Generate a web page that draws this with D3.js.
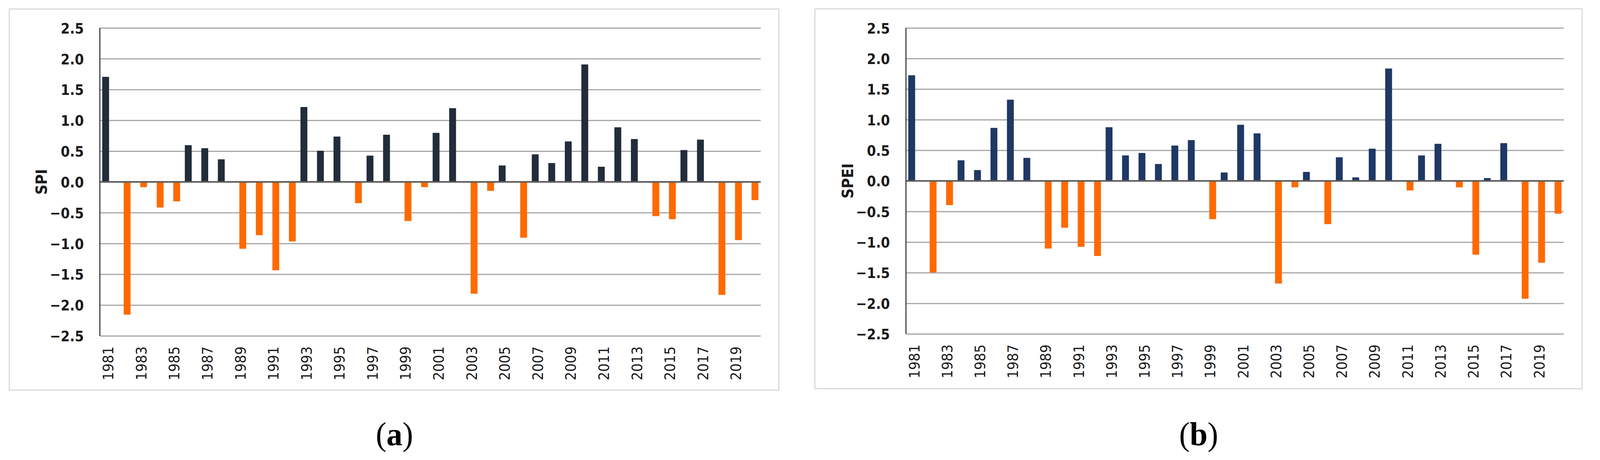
<!DOCTYPE html>
<html>
<head>
<meta charset="utf-8">
<script src="https://cdn.jsdelivr.net/npm/d3@7"></script>
<style>
  html, body { margin: 0; padding: 0; background: #fff; width: 100%; height: 100%; overflow: hidden; }
  svg { display: block; width: 100vw; height: 100vh; }
</style>
</head>
<body>
<svg id="chart" viewBox="0 0 4198 1178" preserveAspectRatio="none"></svg>
<script>
// ---------------- data ----------------
const years = [1981,1982,1983,1984,1985,1986,1987,1988,1989,1990,
               1991,1992,1993,1994,1995,1996,1997,1998,1999,2000,
               2001,2002,2003,2004,2005,2006,2007,2008,2009,2010,
               2011,2012,2013,2014,2015,2016,2017,2018,2019,2020];
const yearTickLabels = [1981,1983,1985,1987,1989,1991,1993,1995,1997,1999,
                        2001,2003,2005,2007,2009,2011,2013,2015,2017,2019];
const yTickValues = [-2.5,-2.0,-1.5,-1.0,-0.5,0.0,0.5,1.0,1.5,2.0,2.5];
const spiValues = [1.70,-2.15,-0.08,-0.41,-0.31,0.59,0.54,0.36,-1.08,-0.86,
                   -1.43,-0.96,1.21,0.50,0.73,-0.34,0.42,0.76,-0.63,-0.08,
                   0.79,1.19,-1.81,-0.14,0.26,-0.90,0.44,0.30,0.65,1.90,
                   0.24,0.88,0.69,-0.55,-0.60,0.51,0.68,-1.83,-0.94,-0.29];
const speiValues = [1.72,-1.49,-0.39,0.33,0.17,0.86,1.32,0.37,-1.10,-0.76,
                    -1.07,-1.22,0.87,0.41,0.45,0.27,0.57,0.66,-0.62,0.13,
                    0.91,0.77,-1.67,-0.10,0.14,-0.70,0.38,0.05,0.52,1.83,
                    -0.15,0.41,0.60,-0.10,-1.20,0.04,0.61,-1.92,-1.33,-0.53];
const seriesKeys = ["positive","negative"];
const panelTitles = ["SPI","SPEI"];
const panelLetters = ["a","b"];

// ---------------- layout / style ----------------
const svg = d3.select("#chart");
const panels = [
  { values: spiValues, title: panelTitles[0], letter: panelLetters[0],
    frame: {x: 24.5, y: 23, w: 2019, h: 976},
    plot: {l: 262, r: 1996, t: 71.5, b: 860},
    titleX: 109, letterX: 1035, posColor: "#222c3a" },
  { values: speiValues, title: panelTitles[1], letter: panelLetters[1],
    frame: {x: 2138, y: 22.5, w: 2013, h: 973},
    plot: {l: 2377, r: 4103, t: 71.4, b: 855},
    titleX: 2224, letterX: 3145, posColor: "#1f3864" }
];
const negColor = "#ff6a00";
const condensed = "'DejaVu Sans Condensed', 'DejaVu Sans', sans-serif";

panels.forEach(p => {
  const g = svg.append("g");

  // frame
  g.append("rect")
    .attr("x", p.frame.x).attr("y", p.frame.y)
    .attr("width", p.frame.w).attr("height", p.frame.h)
    .attr("fill", "none").attr("stroke", "#d9d9d9").attr("stroke-width", 3);

  const x = d3.scaleBand().domain(years).range([p.plot.l, p.plot.r]).padding(0);
  const xs = d3.scalePoint().domain(seriesKeys).range([-6.5, 6.5]);
  const y = d3.scaleLinear().domain([-2.5, 2.5]).range([p.plot.b, p.plot.t]);

  // gridlines
  const grid = g.append("g")
    .attr("transform", `translate(${p.plot.l},0)`)
    .call(d3.axisLeft(y).tickValues(yTickValues).tickSize(-(p.plot.r - p.plot.l)).tickFormat(""));
  grid.select(".domain").remove();
  grid.selectAll("line").attr("stroke", "#a6a6a6").attr("stroke-width", 3);

  // y tick labels
  const yAxis = g.append("g")
    .attr("transform", `translate(${p.plot.l - 42},0)`)
    .call(d3.axisLeft(y).tickValues(yTickValues).tickSize(0).tickPadding(0).tickFormat(d3.format(".1f")));
  yAxis.select(".domain").remove();
  yAxis.selectAll("text")
    .attr("font-family", condensed).attr("font-weight", "bold")
    .attr("font-size", 38).attr("fill", "#1a1a1a").attr("dy", "0.36em");

  // bars
  const data = years.map((yr, i) => ({ year: yr, value: p.values[i],
    series: p.values[i] >= 0 ? seriesKeys[0] : seriesKeys[1] }));
  g.append("g").selectAll("rect").data(data).join("rect")
    .attr("x", d => x(d.year) + x.bandwidth() / 2 + xs(d.series) - 8)
    .attr("width", 16)
    .attr("y", d => Math.min(y(d.value), y(0)))
    .attr("height", d => Math.abs(y(d.value) - y(0)))
    .attr("fill", d => d.series === seriesKeys[0] ? p.posColor : negColor)
    .attr("stroke", d => d.series === seriesKeys[0] ? p.posColor : negColor)
    .attr("stroke-width", 2)
    .attr("stroke-linejoin", "round");

  // zero line
  g.append("line")
    .attr("x1", p.plot.l).attr("x2", p.plot.r)
    .attr("y1", y(0)).attr("y2", y(0))
    .attr("stroke", "#5a5a5a").attr("stroke-width", 4);

  // left axis line
  g.append("line")
    .attr("x1", p.plot.l).attr("x2", p.plot.l)
    .attr("y1", p.plot.t).attr("y2", p.plot.b)
    .attr("stroke", "#404040").attr("stroke-width", 3);

  // x axis labels
  const xAxis = g.append("g")
    .attr("transform", `translate(0,${p.plot.b})`)
    .call(d3.axisBottom(x).tickValues(yearTickLabels).tickSize(0).tickPadding(0));
  xAxis.select(".domain").remove();
  xAxis.selectAll("text")
    .attr("font-family", condensed).attr("font-size", 38).attr("fill", "#1a1a1a")
    .attr("text-anchor", "end")
    .attr("transform", "rotate(-90)")
    .attr("x", -27).attr("y", 0).attr("dy", "0.36em");

  // axis title
  g.append("text")
    .attr("transform", `translate(${p.titleX},${(p.plot.t + p.plot.b) / 2}) rotate(-90)`)
    .attr("text-anchor", "middle").attr("dy", "0.36em")
    .attr("font-family", condensed).attr("font-weight", "bold")
    .attr("font-size", 40).attr("fill", "#1a1a1a")
    .text(p.title);

  // panel letter
  const lt = g.append("text")
    .attr("x", p.letterX).attr("y", 1140)
    .attr("text-anchor", "middle")
    .attr("font-family", "'Liberation Serif', 'Times New Roman', serif")
    .attr("font-size", 84).attr("fill", "#000");
  lt.append("tspan").text("(");
  lt.append("tspan").attr("font-weight", "bold").text(p.letter);
  lt.append("tspan").text(")");
});
</script>
</body>
</html>
